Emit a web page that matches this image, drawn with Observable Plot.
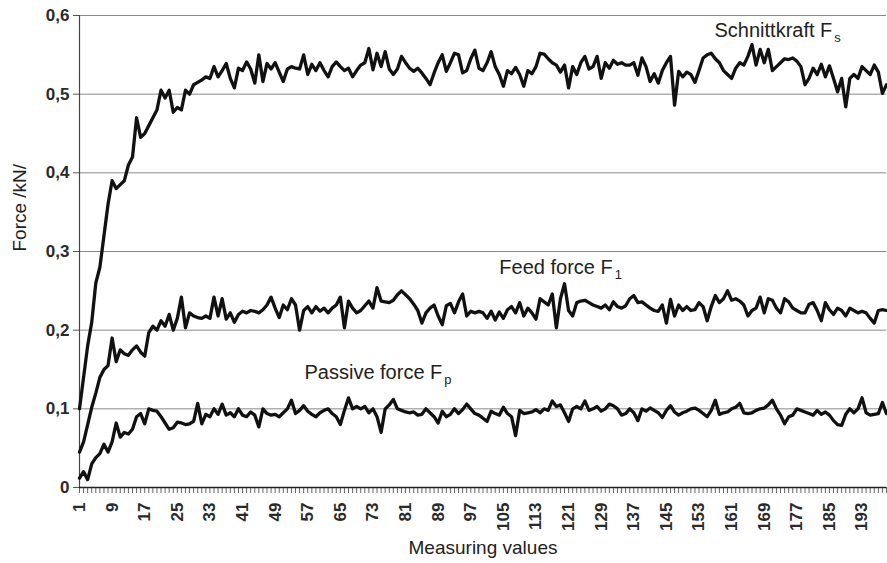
<!DOCTYPE html>
<html>
<head>
<meta charset="utf-8">
<script src="https://cdn.jsdelivr.net/npm/d3@7"></script>
<script src="https://cdn.jsdelivr.net/npm/@observablehq/plot@0.6"></script>
<style>
  html, body { margin: 0; padding: 0; background: #fff; overflow: hidden; }
</style>
</head>
<body>
<div id="chart"></div>
<script>
// ---- data ----
const measuringValues = d3.range(1, 200); // 1..199
const schnittkraft = [0.10,0.14,0.18,0.21,0.26,0.28,0.32,0.36,0.39,0.38,
0.385,0.39,0.41,0.42,0.47,0.445,0.45,0.46,0.47,0.48,
0.505,0.495,0.505,0.477,0.483,0.48,0.505,0.50,0.512,0.515,
0.518,0.522,0.52,0.535,0.522,0.53,0.539,0.52,0.508,0.533,
0.53,0.541,0.532,0.514,0.55,0.516,0.539,0.532,0.54,0.528,
0.516,0.532,0.535,0.533,0.532,0.55,0.525,0.538,0.53,0.54,
0.53,0.522,0.535,0.541,0.535,0.53,0.533,0.522,0.53,0.537,
0.54,0.558,0.531,0.552,0.535,0.554,0.532,0.525,0.532,0.548,
0.54,0.533,0.529,0.533,0.527,0.52,0.512,0.527,0.54,0.55,
0.529,0.54,0.552,0.55,0.527,0.53,0.545,0.556,0.533,0.53,
0.54,0.554,0.535,0.525,0.51,0.53,0.526,0.534,0.525,0.51,
0.53,0.526,0.535,0.552,0.551,0.545,0.54,0.537,0.528,0.537,
0.508,0.535,0.525,0.54,0.548,0.532,0.535,0.548,0.52,0.54,
0.533,0.543,0.538,0.54,0.537,0.537,0.54,0.524,0.546,0.535,
0.516,0.526,0.514,0.53,0.54,0.548,0.486,0.529,0.522,0.528,
0.525,0.515,0.53,0.546,0.55,0.552,0.545,0.54,0.53,0.525,
0.52,0.533,0.54,0.537,0.548,0.563,0.537,0.557,0.54,0.557,
0.53,0.535,0.54,0.545,0.544,0.546,0.542,0.535,0.512,0.52,
0.533,0.525,0.538,0.522,0.536,0.52,0.503,0.52,0.484,0.52,
0.525,0.52,0.535,0.53,0.525,0.537,0.528,0.501,0.512];
const feedForce = [0.045,0.058,0.08,0.102,0.12,0.14,0.15,0.155,0.19,0.16,
0.175,0.17,0.168,0.175,0.18,0.172,0.167,0.197,0.205,0.2,
0.212,0.205,0.22,0.2,0.215,0.242,0.203,0.222,0.218,0.216,
0.215,0.218,0.215,0.242,0.218,0.24,0.214,0.222,0.21,0.22,
0.224,0.222,0.225,0.224,0.222,0.226,0.232,0.242,0.228,0.216,
0.232,0.226,0.24,0.232,0.2,0.225,0.23,0.222,0.23,0.224,
0.228,0.222,0.228,0.232,0.242,0.203,0.237,0.228,0.222,0.225,
0.231,0.237,0.228,0.254,0.237,0.236,0.235,0.238,0.245,0.25,
0.245,0.24,0.233,0.225,0.209,0.222,0.228,0.232,0.218,0.207,
0.231,0.234,0.222,0.236,0.246,0.218,0.224,0.222,0.224,0.222,
0.215,0.224,0.213,0.223,0.215,0.226,0.23,0.222,0.235,0.218,
0.228,0.222,0.214,0.24,0.236,0.232,0.246,0.203,0.24,0.259,
0.225,0.218,0.235,0.237,0.238,0.235,0.232,0.23,0.228,0.232,
0.226,0.236,0.23,0.228,0.231,0.24,0.244,0.235,0.236,0.232,
0.228,0.225,0.224,0.232,0.209,0.239,0.218,0.232,0.225,0.23,
0.225,0.226,0.235,0.23,0.212,0.23,0.244,0.235,0.24,0.25,
0.238,0.24,0.237,0.232,0.218,0.225,0.228,0.242,0.222,0.24,
0.238,0.228,0.222,0.24,0.236,0.228,0.225,0.222,0.222,0.233,
0.235,0.225,0.212,0.235,0.226,0.22,0.228,0.225,0.218,0.228,
0.225,0.222,0.224,0.222,0.215,0.209,0.225,0.226,0.225];
const passiveForce = [0.012,0.02,0.01,0.03,0.038,0.043,0.055,0.045,0.058,0.082,
0.064,0.07,0.068,0.074,0.09,0.094,0.081,0.1,0.098,0.097,
0.09,0.082,0.074,0.076,0.083,0.082,0.08,0.081,0.084,0.107,
0.081,0.093,0.09,0.1,0.093,0.106,0.092,0.095,0.09,0.1,
0.092,0.09,0.096,0.092,0.077,0.1,0.094,0.092,0.093,0.09,
0.095,0.1,0.111,0.094,0.098,0.104,0.097,0.093,0.09,0.095,
0.098,0.1,0.094,0.09,0.08,0.098,0.114,0.1,0.103,0.1,
0.103,0.095,0.1,0.09,0.07,0.1,0.105,0.112,0.1,0.098,
0.096,0.095,0.096,0.092,0.093,0.1,0.095,0.09,0.082,0.097,
0.09,0.093,0.1,0.094,0.099,0.106,0.1,0.094,0.092,0.088,
0.084,0.097,0.094,0.092,0.102,0.094,0.09,0.066,0.098,0.094,
0.095,0.096,0.099,0.095,0.1,0.098,0.11,0.103,0.105,0.095,
0.084,0.1,0.103,0.1,0.11,0.098,0.1,0.103,0.097,0.1,
0.106,0.104,0.1,0.092,0.094,0.1,0.095,0.085,0.1,0.097,
0.101,0.098,0.095,0.089,0.098,0.104,0.096,0.092,0.095,0.097,
0.1,0.101,0.098,0.094,0.09,0.098,0.111,0.093,0.095,0.096,
0.1,0.102,0.107,0.095,0.094,0.095,0.098,0.1,0.101,0.105,
0.111,0.1,0.092,0.081,0.09,0.092,0.1,0.098,0.096,0.094,
0.092,0.098,0.093,0.096,0.092,0.085,0.08,0.079,0.093,0.1,
0.095,0.1,0.114,0.095,0.092,0.093,0.094,0.108,0.094];
const yTicks = [0, 0.1, 0.2, 0.3, 0.4, 0.5, 0.6];
const yTickLabels = ["0", "0,1", "0,2", "0,3", "0,4", "0,5", "0,6"];
const xTickLabels = ["1","9","17","25","33","41","49","57","65","73","81","89","97","105","113","121","129","137","145","153","161","169","177","185","193"];
const seriesNames = ["Schnittkraft F", "Feed force F", "Passive force F"];
const seriesSubs = ["s", "1", "p"];
const xTitle = "Measuring values";
const yTitle = "Force /kN/";

// ---- tables ----
const series = [schnittkraft, feedForce, passiveForce];
const rows = series.flatMap((vals, s) => vals.map((v, i) => ({n: measuringValues[i], v, s})));
const labelPos = [
  {name: seriesNames[0], x: 156.8, y: 0.581},
  {name: seriesNames[1], x: 104.0, y: 0.280},
  {name: seriesNames[2], x: 56.2, y: 0.1455}
];
const font = "'Liberation Sans', Arial, Helvetica, sans-serif";

const chart = Plot.plot({
  width: 887, height: 563,
  marginLeft: 79, marginRight: 1, marginTop: 15, marginBottom: 76,
  style: {fontFamily: font, background: "#fff", color: "#1a1a1a", overflow: "visible"},
  x: {domain: [1, 199], label: null},
  y: {domain: [0, 0.6], label: null},
  marks: [
    Plot.gridY(yTicks, {stroke: "#8a8a8a", strokeOpacity: 1, strokeWidth: 1}),
    Plot.axisY(yTicks, {tickFormat: d => yTickLabels[yTicks.indexOf(d)], tickSize: 6, tickPadding: 4, fontSize: 17, fontWeight: "bold", fill: "#2a2a2a", stroke: "#555"}),
    Plot.axisX(measuringValues, {tickFormat: d => xTickLabels.includes(String(d)) ? String(d) : "", tickRotate: -90, tickSize: 6, tickPadding: 9, fontSize: 17, fontWeight: "bold", fill: "#2a2a2a", stroke: "#666", label: null}),
    Plot.ruleX([1], {stroke: "#444", strokeWidth: 1.2}),
    Plot.ruleY([0], {stroke: "#222", strokeWidth: 1.5}),
    Plot.lineY(rows, {x: "n", y: "v", z: "s", stroke: "#111", strokeWidth: 3.3, strokeLinejoin: "round"}),
    Plot.text(labelPos, {x: "x", y: "y", text: "name", textAnchor: "start", fontSize: 20, fill: "#222"}),
    Plot.text([xTitle], {frameAnchor: "bottom", dy: 66, fontSize: 19, fill: "#222"}),
    Plot.text([yTitle], {frameAnchor: "left", rotate: -90, dx: -60, fontSize: 19, fill: "#222"})
  ]
});

// subscripts on series labels
d3.select(chart).selectAll("text").each(function() {
  const idx = seriesNames.indexOf(this.textContent);
  if (idx >= 0) {
    d3.select(this).append("tspan").attr("dy", 5).attr("dx", 2).attr("font-size", 13).text(seriesSubs[idx]);
  }
});

document.getElementById("chart").appendChild(chart);
</script>
</body>
</html>
